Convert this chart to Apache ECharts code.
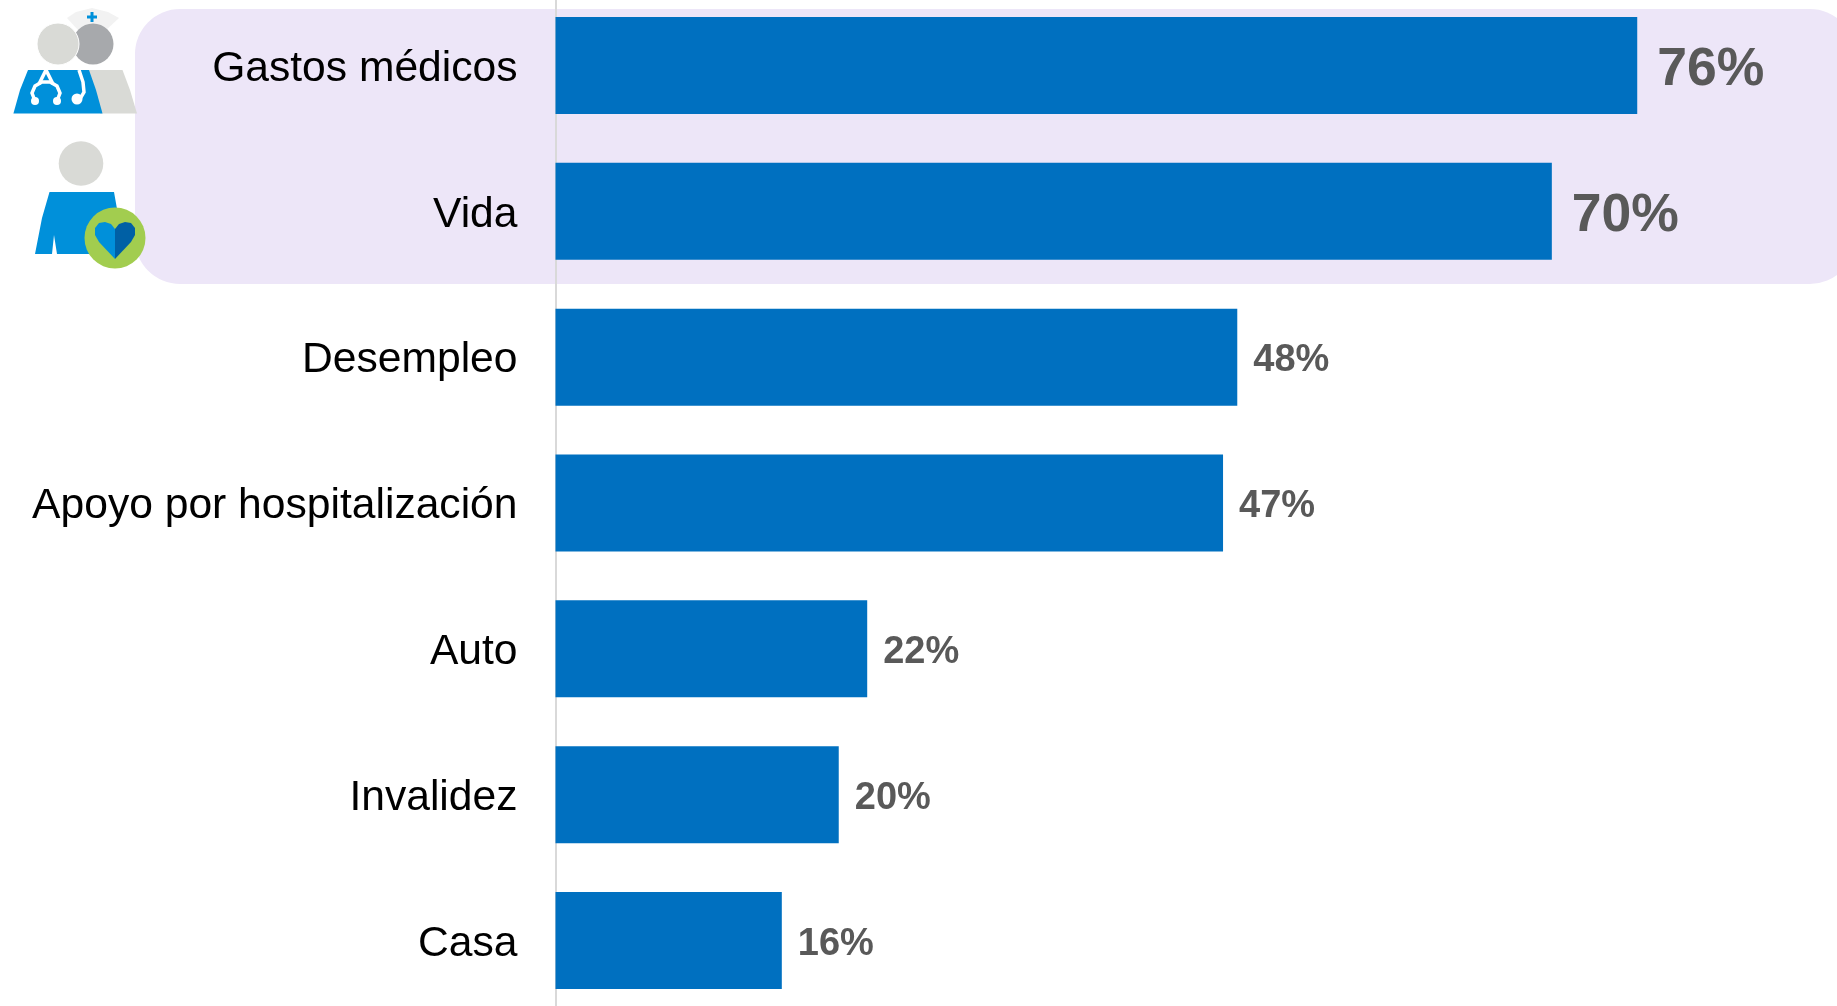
<!DOCTYPE html>
<html><head><meta charset="utf-8">
<style>html,body{margin:0;padding:0;background:#fff}#c{width:1837px;height:1006px}</style>
<script src="https://cdn.jsdelivr.net/npm/echarts@6/dist/echarts.min.js"></script>
</head><body><div id="c"></div>
<script>
const categories = ['Gastos médicos','Vida','Desempleo','Apoyo por hospitalización','Auto','Invalidez','Casa'];
const values = [76,70,47.9,46.9,21.9,19.9,15.9];
const labels = ['76%','70%','48%','47%','22%','20%','16%'];
const highlighted = [0,1];

const lightGray='#d9dad6', darkGray='#a7a9ac', blue='#0090da', deep='#0060a5', green='#a2cd4f';
const wire={fill:'none',stroke:'#fff',lineWidth:3.5};
const chart = echarts.init(document.getElementById('c'), null, {renderer:'canvas'});
chart.setOption({
  animation:false,
  backgroundColor:'#fff',
  grid:{left:555.5,right:0.5,top:-7.5,bottom:-7.5,containLabel:false,outerBoundsMode:'none'},
  xAxis:{type:'value',min:0,max:90,show:false},
  yAxis:{type:'category',inverse:true,data:categories,offset:1,
    axisLine:{show:true,lineStyle:{color:'#d9d9d9',width:2}},
    axisTick:{show:false},
    axisLabel:{interval:0,margin:37,formatter:v=>'{a|'+v+'}',
      rich:{a:{padding:[7,0,0,0],color:'#000',fontFamily:'Liberation Sans',fontSize:42.6}}}},
  series:[{type:'bar',barWidth:97,z:3,
    itemStyle:{color:'#0070c0'},
    data:values.map((v,i)=>({value:v,label:{
      show:true,position:'right',
      distance:highlighted.includes(i)?20:16,
      offset:[0,highlighted.includes(i)?4.5:3.5],
      formatter:labels[i],color:'#595959',fontFamily:'Liberation Sans',fontWeight:'bold',
      fontSize:highlighted.includes(i)?53.5:38}}))}],
  graphic:{elements:[
    {type:'rect',z:-10,silent:true,shape:{x:135,y:9,width:1720,height:275,r:45},style:{fill:'#ede6f8'}},
    // icon: doctor and nurse
    {type:'polygon',z:20,shape:{points:[[67,18],[76,12],[92,8],[108,12],[119,18],[106,30],[78,30]]},style:{fill:'#f2f2f2'}},
    {type:'rect',z:21,shape:{x:90.5,y:12,width:3,height:10},style:{fill:blue}},
    {type:'rect',z:21,shape:{x:87,y:15.5,width:10,height:3},style:{fill:blue}},
    {type:'circle',z:22,shape:{cx:93,cy:44,r:20.5},style:{fill:darkGray}},
    {type:'circle',z:23,shape:{cx:58,cy:44,r:21},style:{fill:lightGray,stroke:'#fff',lineWidth:1}},
    {type:'polygon',z:22,shape:{points:[[88,70],[122.5,70],[130,90],[137,113.5],[100,113.5]]},style:{fill:lightGray}},
    {type:'polygon',z:23,shape:{points:[[28,70],[89,70],[96,90],[102.5,113.5],[13.4,113.5],[20,90]]},style:{fill:blue}},
    {type:'polyline',z:24,shape:{points:[[35,101],[32,93],[35,86],[42,82],[50,82],[57,86],[60,93],[57,101]]},style:wire},
    {type:'polyline',z:24,shape:{points:[[39,84],[46,70],[53,84]]},style:wire},
    {type:'polyline',z:24,shape:{points:[[79,70],[83,82],[84,92],[80,99]]},style:wire},
    {type:'circle',z:24,shape:{cx:35,cy:101,r:4},style:{fill:'#fff'}},
    {type:'circle',z:24,shape:{cx:57,cy:101,r:4},style:{fill:'#fff'}},
    {type:'circle',z:24,shape:{cx:77,cy:99,r:5.5},style:{fill:'#fff'}},
    // icon: person with heart
    {type:'circle',z:20,shape:{cx:81,cy:163.5,r:22.3},style:{fill:lightGray}},
    {type:'polygon',z:20,shape:{points:[[49.5,192],[114,192],[125,254],[57,254],[54,235],[52,254],[35,254],[42,218]]},style:{fill:blue}},
    {type:'circle',z:21,shape:{cx:115,cy:238,r:30.5},style:{fill:green}},
    {type:'polygon',z:22,shape:{points:[[115,259],[99,242],[95,235],[95,228],[99,223],[105,222],[111,224],[115,229]]},style:{fill:blue}},
    {type:'polygon',z:22,shape:{points:[[115,259],[131,242],[135,235],[135,228],[131,223],[125,222],[119,224],[115,229]]},style:{fill:deep}}
  ]}
});
</script></body></html>
